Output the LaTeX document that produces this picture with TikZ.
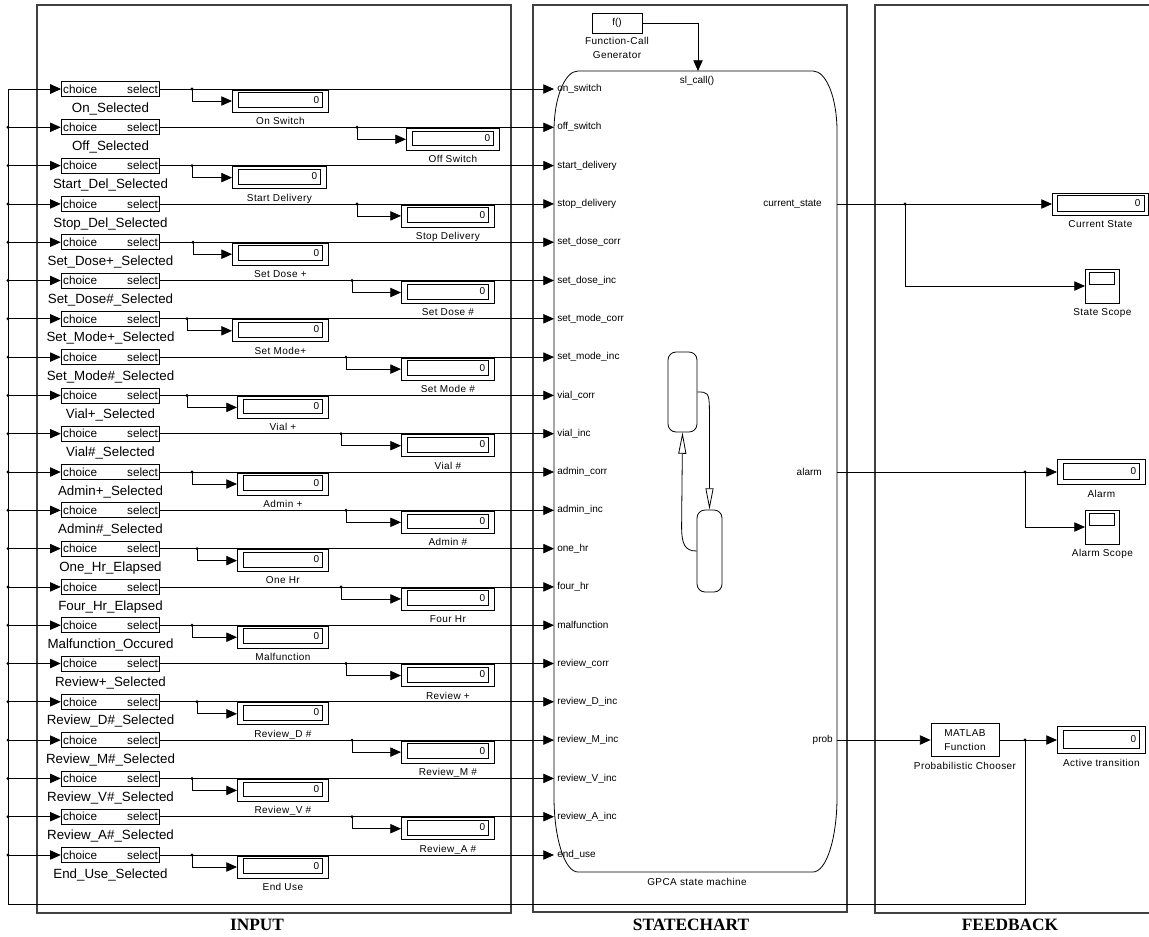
\documentclass[tikz,border=0pt]{standalone}
\usepackage{fontspec}
\setmainfont{Liberation Sans}
\newfontfamily\spacedfont[LetterSpace=4]{Liberation Sans}
\newfontfamily\titlefont{Liberation Serif}
\usetikzlibrary{arrows.meta,positioning}

\tikzset{
  wire/.style={draw=black,line width=0.6pt},
  sig/.style={wire,-{Triangle[length=8pt,width=7pt]}},
  selbox/.style={draw=black,line width=0.6pt,inner xsep=1.5pt,inner ysep=0pt,
    text width=71pt,minimum height=11.25pt,font=\fontsize{8.8}{9}\selectfont},
  sellab/.style={inner sep=0pt,font=\fontsize{10}{11}\selectfont},
  dispbox/.style={draw=black,line width=0.6pt,minimum height=16.5pt,inner sep=0pt,anchor=west},
  blklab/.style={inner sep=0pt,font=\spacedfont\fontsize{7.5}{10.5}\selectfont},
  portlab/.style={inner sep=0pt,font=\fontsize{7.5}{8}\selectfont},
  frame/.style={draw=black!75,line width=0.8pt},
  title/.style={inner sep=0pt,font=\titlefont\bfseries\fontsize{13}{14}\selectfont},
  state/.style={draw=black,line width=0.6pt,rounded corners=6pt,inner sep=0pt},
  trans/.style={wire,-{Triangle[open,length=16pt,width=6pt]}},
  scopebox/.style={draw=black,line width=0.6pt,minimum size=25.5pt,inner sep=0pt,anchor=west},
}

\begin{document}
\begin{tikzpicture}[x=0.75pt, y=-0.75pt]
  \useasboundingbox (0,0) rectangle (1149,936);

  % the three frames
  \draw[frame] (37,5) rectangle (511,913);
  \draw[frame] (533,5) rectangle (847,912);
  \draw[frame] (1149,5) -| (875,913) -- (1149,913);
  \node[title] (inputT) at (257,925) {INPUT};
  \node[title] (chartT) at (691,925) {STATECHART};
  \node[title] (feedT) at (1010,925) {FEEDBACK};

  % stateflow chart block
  \draw[wire] (554,131) .. controls (554,98) and (564.7,71) .. (578,71)
    -- (813,71) .. controls (826.3,71) and (837,98) .. (837,131)
    -- (837,797) .. controls (837,838.4) and (826.3,872) .. (813,872)
    -- (578,872) .. controls (564.7,872) and (554,838.4) .. (554,797) -- cycle;
  \node[blklab] (chartlab) at (697,882) {GPCA state machine};
  \node[state,minimum width=21.75pt,minimum height=60pt] (stA) at (682.5,392) {};
  \node[state,minimum width=18.75pt,minimum height=61.5pt] (stB) at (709.5,551) {};
  \draw[trans] (stA.east) .. controls +(10,0) and +(0,-18) .. ++(12,18) -- (stB.north);
  \draw[trans] (stB.west) .. controls +(-12,0) and +(0,18) .. ++(-15,-25) -- (stA.south);

  % function-call generator
  \node[draw,line width=0.6pt,minimum width=37.5pt,minimum height=15pt,
    font=\fontsize{7.5}{8}\selectfont] (fcgen) at (617,23) {f()};
  \node[blklab,below=3pt of fcgen,align=center] (fcglab) {Function-Call\\Generator};
  \coordinate (trig) at (698,71);
  \draw[sig] (fcgen.east) -| (trig);
  \node[portlab] (triglab) at (697,81) {sl\_call()};

  % input rows
  \foreach \i/\sel/\disp/\port/\bx/\dx/\dw in {
      1/On\_Selected/On Switch/on\_switch/192/232/96,
      2/Off\_Selected/Off Switch/off\_switch/357/406/93,
      3/Start\_Del\_Selected/Start Delivery/start\_delivery/192/232/94,
      4/Stop\_Del\_Selected/Stop Delivery/stop\_delivery/357/401/93,
      5/Set\_Dose+\_Selected/Set Dose +/set\_dose\_corr/193/232/96,
      6/Set\_Dose\#\_Selected/Set Dose \#/set\_dose\_inc/352/401/93,
      7/Set\_Mode+\_Selected/Set Mode+/set\_mode\_corr/187/232/96,
      8/Set\_Mode\#\_Selected/Set Mode \#/set\_mode\_inc/346/401/93,
      9/Vial+\_Selected/Vial +/vial\_corr/187/237/91,
      10/Vial\#\_Selected/Vial \#/vial\_inc/341/401/93,
      11/Admin+\_Selected/Admin +/admin\_corr/192/237/91,
      12/Admin\#\_Selected/Admin \#/admin\_inc/346/401/93,
      13/One\_Hr\_Elapsed/One Hr/one\_hr/197/237/91,
      14/Four\_Hr\_Elapsed/Four Hr/four\_hr/341/401/93,
      15/Malfunction\_Occured/Malfunction/malfunction/192/237/91,
      16/Review+\_Selected/Review +/review\_corr/346/401/93,
      17/Review\_D\#\_Selected/Review\_D \#/review\_D\_inc/197/237/91,
      18/Review\_M\#\_Selected/Review\_M \#/review\_M\_inc/352/401/93,
      19/Review\_V\#\_Selected/Review\_V \#/review\_V\_inc/192/237/91,
      20/Review\_A\#\_Selected/Review\_A \#/review\_A\_inc/352/401/93,
      21/End\_Use\_Selected/End Use/end\_use/192/237/91} {
    \pgfmathsetmacro{\y}{89+38.3*(\i-1)}
    \coordinate (bus\i) at (8,\y);
    \coordinate (in\i) at (554,\y);
    \coordinate (br\i) at (\bx,\y);
    \node[selbox] (sel\i) at (110.5,\y) {choice\hfill select};
    \node[sellab,below=4pt of sel\i] (sl\i) {\sel};
    \node[dispbox,minimum width={\dw*0.75pt}] (disp\i) at (\dx,\y+12) {};
    \draw[wire] ([shift={(6,3)}]disp\i.north west) rectangle ([shift={(-6,-5)}]disp\i.south east);
    \node[portlab,anchor=east] (v\i) at ([xshift=-7pt,yshift=1pt]disp\i.east) {0};
    \node[blklab,below=3.5pt of disp\i] (dl\i) {\disp};
    \node[portlab,anchor=west] (pl\i) at (557,\y) {\port};
    \ifnum\i>1 \fill (bus\i) circle (1.2pt); \fi
    \draw[sig] (bus\i) -- (sel\i.west);
    \draw[sig] (sel\i.east) -- (in\i);
    \fill (br\i) circle (1.2pt);
    \draw[sig] (br\i) |- (disp\i.west);
  }

  % current state output
  \coordinate (csout) at (837,204);
  \node[portlab,anchor=east] (cslab) at (822,204) {current\_state};
  \node[dispbox,minimum width=72pt] (curdisp) at (1052,204) {};
  \draw[wire] ([shift={(5,3)}]curdisp.north west) rectangle ([shift={(-4,-4)}]curdisp.south east);
  \node[portlab,anchor=east] (curval) at ([xshift=-6pt,yshift=1pt]curdisp.east) {0};
  \node[blklab,below=3.5pt of curdisp] (curlab) {Current State};
  \coordinate (csbr) at (905,204);
  \node[scopebox] (stscope) at (1085,286) {};
  \draw[wire] ([shift={(4,4)}]stscope.north west) rectangle ([shift={(-5,16)}]stscope.north east);
  \node[blklab,below=3.5pt of stscope] (stscopelab) {State Scope};
  \draw[sig] (csout) -- (curdisp.west);
  \fill (csbr) circle (1.2pt);
  \draw[sig] (csbr) |- (stscope.west);

  % alarm output
  \coordinate (alout) at (837,472);
  \node[portlab,anchor=east] (allab) at (822,472) {alarm};
  \node[dispbox,minimum width=66pt,minimum height=18.75pt] (aldisp) at (1057,472) {};
  \draw[wire] ([shift={(6,4)}]aldisp.north west) rectangle ([shift={(-6,-6)}]aldisp.south east);
  \node[portlab,anchor=east] (alval) at ([xshift=-7pt,yshift=1pt]aldisp.east) {0};
  \node[blklab,below=3.5pt of aldisp] (alname) {Alarm};
  \coordinate (albr) at (1025,472);
  \node[scopebox] (alscope) at (1085,527) {};
  \draw[wire] ([shift={(4,4)}]alscope.north west) rectangle ([shift={(-5,16)}]alscope.north east);
  \node[blklab,below=3.5pt of alscope] (alscopelab) {Alarm Scope};
  \draw[sig] (alout) -- (aldisp.west);
  \fill (albr) circle (1.2pt);
  \draw[sig] (albr) |- (alscope.west);

  % prob output and chooser
  \coordinate (probout) at (837,740);
  \node[portlab,anchor=east] (problab) at (833,740) {prob};
  \node[draw,line width=0.6pt,minimum width=51pt,minimum height=24.75pt,inner sep=0pt,
    align=center,font=\spacedfont\fontsize{7.5}{10}\selectfont] (chooser) at (965,740) {MATLAB\\Function};
  \node[blklab,below=3.5pt of chooser] (chooserlab) {Probabilistic Chooser};
  \node[dispbox,minimum width=66pt,minimum height=20.25pt] (actdisp) at (1057,740) {};
  \draw[wire] ([shift={(6,4)}]actdisp.north west) rectangle ([shift={(-6,-6)}]actdisp.south east);
  \node[portlab,anchor=east] (actval) at ([xshift=-7pt,yshift=1pt]actdisp.east) {0};
  \node[blklab,below=3.5pt of actdisp] (actlab) {Active transition};
  \coordinate (fbk) at (1025,740);
  \draw[sig] (probout) -- (chooser.west);
  \draw[sig] (chooser.east) -- (actdisp.west);
  \fill (fbk) circle (1.2pt);

  % feedback loop back to the selectors
  \coordinate (busbot) at (8,904);
  \draw[sig] (fbk) |- (busbot) -- (bus1) -- (sel1.west);
\end{tikzpicture}
\end{document}
